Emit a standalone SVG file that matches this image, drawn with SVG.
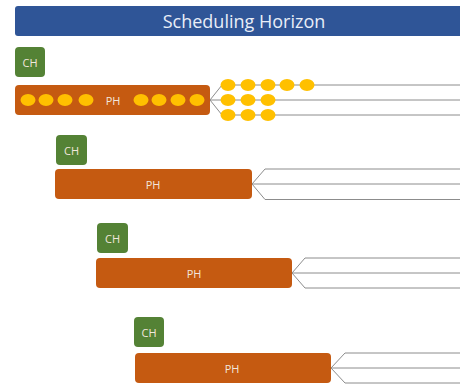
<svg xmlns="http://www.w3.org/2000/svg" width="460" height="385" viewBox="0 0 460 385">
<style>
.hdr{fill:#2F5597}
.ch{fill:#548235}
.ph{fill:#C55A11}
.dot{fill:#FFC000}
.lbl{font-family:"Open Sans","Liberation Sans",sans-serif;font-size:11px;fill:#F2E6DC;text-anchor:middle;dominant-baseline:central}
.ttl{font-family:"Open Sans","Liberation Sans",sans-serif;font-size:18px;fill:#E9EEF7;text-anchor:middle;dominant-baseline:central}
.ln{fill:none;stroke:#8C8C8C;stroke-width:1}
</style>
<rect width="460" height="385" fill="#FFFFFF"/>
<g id="header">
<rect class="hdr" x="15" y="6" width="452" height="30" rx="3"/>
<text class="ttl" x="244" y="21">Scheduling Horizon</text>
</g>
<g id="connectors">
<path class="ln" d="M210 100 L222 85 H460 M210 100 H460 M210 100 L222 115 H460"/>
<path class="ln" d="M252 184 L265 169 H460 M252 184 H460 M252 184 L265 199.5 H460"/>
<path class="ln" d="M292 273 L305 258 H460 M292 273 H460 M292 273 L305 288 H460"/>
<path class="ln" d="M331 368 L345 353 H460 M331 368 H460 M331 368 L345 383 H460"/>
</g>
<g id="ch1"><rect class="ch" x="15" y="47" width="30" height="30" rx="4"/><text class="lbl" x="30" y="62">CH</text></g>
<g id="ph1">
<rect class="ph" x="15" y="85" width="195" height="30" rx="4"/>
<text class="lbl" x="113" y="100">PH</text>
<ellipse class="dot" cx="28" cy="100" rx="7.5" ry="6"/>
<ellipse class="dot" cx="46" cy="100" rx="7.5" ry="6"/>
<ellipse class="dot" cx="65" cy="100" rx="7.5" ry="6"/>
<ellipse class="dot" cx="86" cy="100" rx="7.5" ry="6"/>
<ellipse class="dot" cx="141" cy="100" rx="7.5" ry="6"/>
<ellipse class="dot" cx="159" cy="100" rx="7.5" ry="6"/>
<ellipse class="dot" cx="178" cy="100" rx="7.5" ry="6"/>
<ellipse class="dot" cx="197" cy="100" rx="7.5" ry="6"/>
</g>
<g id="dots1">
<ellipse class="dot" cx="228" cy="85" rx="7.5" ry="6"/>
<ellipse class="dot" cx="248" cy="85" rx="7.5" ry="6"/>
<ellipse class="dot" cx="268" cy="85" rx="7.5" ry="6"/>
<ellipse class="dot" cx="287" cy="85" rx="7.5" ry="6"/>
<ellipse class="dot" cx="307" cy="85" rx="7.5" ry="6"/>
<ellipse class="dot" cx="228" cy="100" rx="7.5" ry="6"/>
<ellipse class="dot" cx="248" cy="100" rx="7.5" ry="6"/>
<ellipse class="dot" cx="268" cy="100" rx="7.5" ry="6"/>
<ellipse class="dot" cx="228" cy="115" rx="7.5" ry="6"/>
<ellipse class="dot" cx="248" cy="115" rx="7.5" ry="6"/>
<ellipse class="dot" cx="268" cy="115" rx="7.5" ry="6"/>
</g>
<g id="ch2"><rect class="ch" x="56" y="135" width="31" height="30" rx="4"/><text class="lbl" x="71.5" y="150">CH</text></g>
<g id="ph2"><rect class="ph" x="55" y="169" width="197" height="30" rx="4"/><text class="lbl" x="153" y="184">PH</text></g>
<g id="ch3"><rect class="ch" x="97" y="223" width="31" height="30" rx="4"/><text class="lbl" x="112.5" y="238">CH</text></g>
<g id="ph3"><rect class="ph" x="96" y="258" width="196" height="30" rx="4"/><text class="lbl" x="194" y="273">PH</text></g>
<g id="ch4"><rect class="ch" x="134" y="317" width="30" height="30" rx="4"/><text class="lbl" x="149" y="332">CH</text></g>
<g id="ph4"><rect class="ph" x="135" y="353" width="196" height="30" rx="4"/><text class="lbl" x="232" y="368">PH</text></g>
</svg>
